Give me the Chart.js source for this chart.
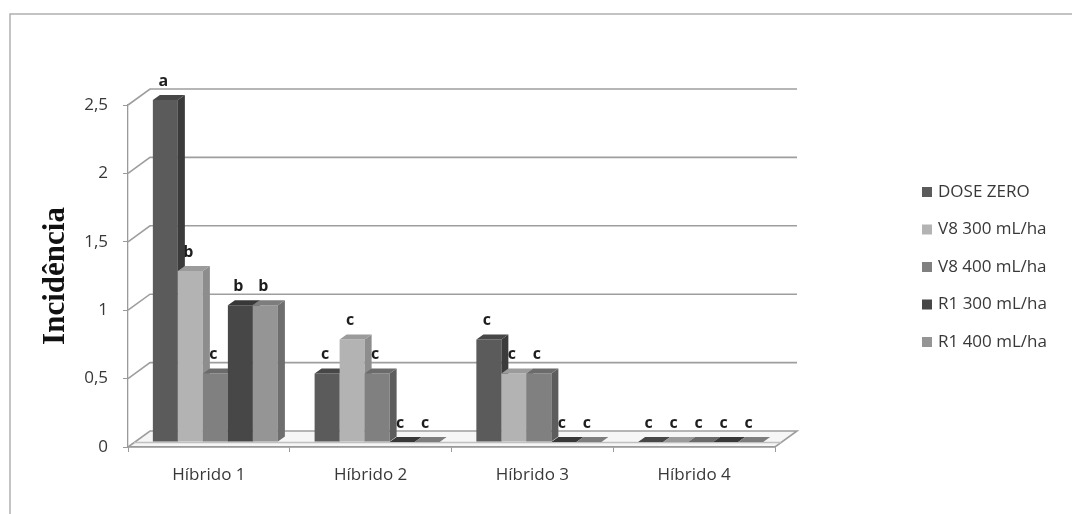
<!DOCTYPE html>
<html>
<head>
<meta charset="utf-8">
<script src="https://cdn.jsdelivr.net/npm/chart.js@4.4.1/dist/chart.umd.min.js"></script>
<style>
  html, body { margin: 0; padding: 0; background: #ffffff; }
  canvas { display: block; }
</style>
</head>
<body>
<canvas id="grafico" width="1072" height="514"></canvas>
<script>
// ---- dados ----
const categorias = ['Híbrido 1', 'Híbrido 2', 'Híbrido 3', 'Híbrido 4'];
const nomesSeries = ['DOSE ZERO', 'V8 300 mL/ha', 'V8 400 mL/ha', 'R1 300 mL/ha', 'R1 400 mL/ha'];
const doseZero = [2.5, 0.5, 0.75, 0];
const v8_300   = [1.25, 0.75, 0.5, 0];
const v8_400   = [0.5, 0.5, 0.5, 0];
const r1_300   = [1, 0, 0, 0];
const r1_400   = [1, 0, 0, 0];
// letras do teste de médias sobre cada barra
const letrasDoseZero = ['a', 'c', 'c', 'c'];
const letrasV8_300   = ['b', 'c', 'c', 'c'];
const letrasV8_400   = ['c', 'c', 'c', 'c'];
const letrasR1_300   = ['b', 'c', 'c', 'c'];
const letrasR1_400   = ['b', 'c', 'c', 'c'];
const yMin = 0, yMax = 2.5, yPasso = 0.5;

const valores = [doseZero, v8_300, v8_400, r1_300, r1_400];
const letras = [letrasDoseZero, letrasV8_300, letrasV8_400, letrasR1_300, letrasR1_400];

// ---- aparência ----
const faces = [
  { front: '#5b5b5b', side: '#3b3b3b', top: '#474747' },
  { front: '#b3b3b3', side: '#8d8d8d', top: '#9b9b9b' },
  { front: '#808080', side: '#5d5d5d', top: '#6b6b6b' },
  { front: '#474747', side: '#2c2c2c', top: '#383838' },
  { front: '#959595', side: '#6e6e6e', top: '#7d7d7d' }
];
const WALL = { dx: 22, dy: -16 };    // parede do fundo em relação ao eixo frontal
const SHIFT = { dx: 6.5, dy: -5 };   // plano frontal das barras
const DEPTH = { dx: 7, dy: -5 };     // espessura das barras
const LINE = '#9e9e9e';
const TEXT = '#383838';
const FONT = "'Open Sans', 'DejaVu Sans', sans-serif";

Chart.defaults.font.family = FONT;
Chart.defaults.color = TEXT;

const moldura = {
  id: 'moldura',
  beforeDraw(chart) {
    const ctx = chart.ctx;
    const xs = chart.scales.x, ys = chart.scales.y;
    ctx.save();
    // quadro externo
    ctx.strokeStyle = '#b0b0b0';
    ctx.lineWidth = 1.5;
    ctx.beginPath();
    ctx.moveTo(10, 514); ctx.lineTo(10, 14); ctx.lineTo(1072, 14);
    ctx.stroke();

    // linhas de grade na parede do fundo + diagonais laterais
    ctx.strokeStyle = LINE;
    ctx.lineWidth = 1.6;
    for (let v = yMin + yPasso; v <= yMax + 1e-9; v += yPasso) {
      const y = ys.getPixelForValue(v);
      ctx.beginPath();
      ctx.moveTo(xs.left, y);
      ctx.lineTo(xs.left + WALL.dx, y + WALL.dy);
      ctx.lineTo(xs.right + WALL.dx, y + WALL.dy);
      ctx.stroke();
    }
    // piso
    const y0 = ys.getPixelForValue(0);
    ctx.fillStyle = '#f6f6f6';
    ctx.beginPath();
    ctx.moveTo(xs.left, y0);
    ctx.lineTo(xs.left + WALL.dx, y0 + WALL.dy);
    ctx.lineTo(xs.right + WALL.dx, y0 + WALL.dy);
    ctx.lineTo(xs.right, y0);
    ctx.closePath();
    ctx.fill();
    ctx.stroke();
    ctx.strokeStyle = '#c0c0c0';
    ctx.lineWidth = 1.3;
    ctx.beginPath();
    ctx.moveTo(xs.left + 6, y0 - 4.5);
    ctx.lineTo(xs.right + 6, y0 - 4.5);
    ctx.stroke();
    ctx.restore();
  }
};

const barras3d = {
  id: 'barras3d',
  beforeDatasetsDraw(chart) {
    const ctx = chart.ctx;
    ctx.save();
    ctx.translate(SHIFT.dx, SHIFT.dy);
    const nSeries = chart.data.datasets.length;
    chart.data.labels.forEach((_, j) => {
      for (let i = 0; i < nSeries; i++) {
        const bar = chart.getDatasetMeta(i).data[j];
        const { x, y, base, width } = bar.getProps(['x', 'y', 'base', 'width'], true);
        const l = x - width / 2, r = x + width / 2;
        bar.draw(ctx);
        ctx.fillStyle = faces[i].side;
        ctx.beginPath();
        ctx.moveTo(r, y);
        ctx.lineTo(r + DEPTH.dx, y + DEPTH.dy);
        ctx.lineTo(r + DEPTH.dx, base + DEPTH.dy);
        ctx.lineTo(r, base);
        ctx.closePath();
        ctx.fill();
        ctx.fillStyle = faces[i].top;
        ctx.beginPath();
        ctx.moveTo(l, y);
        ctx.lineTo(l + DEPTH.dx, y + DEPTH.dy);
        ctx.lineTo(r + DEPTH.dx, y + DEPTH.dy);
        ctx.lineTo(r, y);
        ctx.closePath();
        ctx.fill();
      }
    });
    // letras sobre as barras
    ctx.font = "bold 16px " + FONT;
    ctx.fillStyle = '#1e1e1e';
    ctx.textAlign = 'center';
    ctx.textBaseline = 'middle';
    for (let i = 0; i < nSeries; i++) {
      chart.getDatasetMeta(i).data.forEach((bar, j) => {
        ctx.fillText(letras[i][j], bar.x - 2, bar.y - 19);
      });
    }
    ctx.restore();
    return false;
  }
};

// legenda à direita, uma série por linha
const legenda = {
  id: 'legenda',
  afterDraw(chart) {
    const ctx = chart.ctx;
    ctx.save();
    ctx.font = "17px " + FONT;
    ctx.textAlign = 'left';
    ctx.textBaseline = 'middle';
    chart.data.datasets.forEach((ds, i) => {
      const yc = 192 + i * 37.5;
      ctx.fillStyle = ds.backgroundColor;
      ctx.fillRect(922, yc - 5, 10, 10);
      ctx.fillStyle = TEXT;
      ctx.fillText(ds.label, 938, yc);
    });
    ctx.restore();
  }
};

new Chart(document.getElementById('grafico'), {
  type: 'bar',
  data: {
    labels: categorias,
    datasets: valores.map((serie, i) => ({
      label: nomesSeries[i],
      data: serie,
      backgroundColor: faces[i].front,
      borderWidth: 0,
      categoryPercentage: 0.773,
      barPercentage: 1
    }))
  },
  options: {
    responsive: false,
    animation: false,
    devicePixelRatio: 1,
    layout: { padding: { left: 10, top: 105, right: 297, bottom: 0 } },
    plugins: {
      tooltip: { enabled: false },
      legend: { display: false }
    },
    scales: {
      x: {
        type: 'category',
        offset: true,
        grid: { display: true, drawOnChartArea: false, drawTicks: true, tickLength: 5, color: '#9a9a9a', offset: true },
        border: { display: true, color: '#9a9a9a', width: 1.3 },
        ticks: { font: { size: 17 }, color: TEXT, padding: 13, maxRotation: 0 },
        afterFit(s) { s.height = 67; }
      },
      y: {
        type: 'linear',
        min: yMin,
        max: yMax,
        grid: { display: true, drawOnChartArea: false, drawTicks: true, tickLength: 5, color: '#9a9a9a' },
        border: { display: true, color: '#9a9a9a', width: 1.3 },
        ticks: {
          stepSize: yPasso,
          font: { size: 17 },
          color: TEXT,
          padding: 15,
          callback: v => String(v).replace('.', ',')
        },
        title: {
          display: true,
          text: 'Incidência',
          color: '#111111',
          font: { family: "'Liberation Serif', 'Times New Roman', serif", size: 31, weight: 'bold' },
          padding: { top: 27, bottom: 0 }
        },
        afterFit(s) { s.width = 118; }
      }
    }
  },
  plugins: [moldura, barras3d, legenda]
});
</script>
</body>
</html>
